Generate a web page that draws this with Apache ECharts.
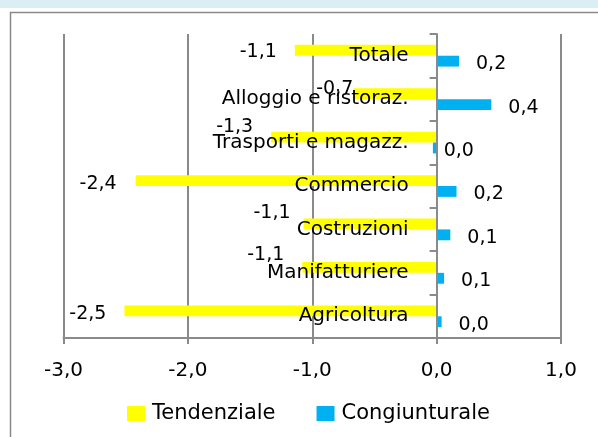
<!DOCTYPE html>
<html>
<head>
<meta charset="utf-8">
<script src="https://cdn.jsdelivr.net/npm/echarts@6/dist/echarts.min.js"></script>
<style>
html,body{margin:0;padding:0;background:#fff;}
#chart{width:598px;height:437px;}
</style>
</head>
<body>
<div id="chart"></div>
<script>
// ---- data ----
const categories = ['Totale', 'Alloggio e ristoraz.', 'Trasporti e magazz.', 'Commercio', 'Costruzioni', 'Manifatturiere', 'Agricoltura'];
const tendenziale = [-1.14, -0.67, -1.33, -2.42, -1.07, -1.08, -2.51];
const congiunturale = [0.18, 0.44, -0.03, 0.16, 0.11, 0.06, 0.04];
const seriesNames = ['Tendenziale', 'Congiunturale'];
const xTicks = [-3, -2, -1, 0, 1];

// ---- styling helpers ----
const FONT = 'DejaVu Sans';
const fmt = v => (Math.abs(v) < 0.05 ? '0.0' : v.toFixed(1)).replace('.', ',');
// manual label nudges as in the original chart [dx, dy]
const yellowShift = [[0, 1.5], [18, -4.5], [0, -10], [-1, 3], [5, -11], [0, -12], [0, 3]];

const GRID_LEFT = 63.5, GRID_RIGHT = 37, W = 598;
const xMin = xTicks[0], xMax = xTicks[xTicks.length - 1];
// move the category axis (line, ticks and labels) onto the zero line of the value axis
const yAxisShift = -(W - GRID_LEFT - GRID_RIGHT) * (0 - xMin) / (xMax - xMin);

const chart = echarts.init(document.getElementById('chart'), null, {renderer: 'canvas'});

const option = {
  animation: false,
  backgroundColor: '#ffffff',
  graphic: [
    {type: 'rect', left: 0, top: 0, shape: {width: 598, height: 8}, style: {fill: '#dbeef4'}, silent: true, z: -10},
    {type: 'rect', shape: {x: 10.5, y: 12.5, width: 700, height: 500}, style: {fill: 'none', stroke: '#8a8a8a', lineWidth: 1.5}, silent: true, z: -10}
  ],
  legend: {
    data: seriesNames,
    left: 127,
    top: 403,
    padding: 0,
    itemWidth: 18,
    itemHeight: 15,
    itemGap: 41,
    icon: 'rect',
    textStyle: {fontFamily: FONT, fontSize: 21, color: '#000', padding: [0, 0, 0, 2]}
  },
  grid: {left: GRID_LEFT, right: GRID_RIGHT, top: 34, bottom: 99, containLabel: false, outerBoundsMode: 'none'},
  xAxis: {
    type: 'value',
    min: xMin,
    max: xMax,
    interval: 1,
    axisLine: {show: true, lineStyle: {color: '#8a8a8a', width: 2}},
    axisTick: {show: true, length: 6, lineStyle: {color: '#8a8a8a', width: 2}},
    splitLine: {show: true, lineStyle: {color: '#8a8a8a', width: 2}},
    axisLabel: {fontFamily: FONT, fontSize: 20, color: '#000', margin: 23, formatter: v => fmt(v)}
  },
  yAxis: {
    type: 'category',
    inverse: true,
    data: categories,
    z: 5,
    offset: yAxisShift,
    axisLine: {show: true, onZero: false, lineStyle: {color: '#8a8a8a', width: 2}},
    axisTick: {show: true, length: 7, lineStyle: {color: '#8a8a8a', width: 2}},
    splitLine: {show: false},
    axisLabel: {fontFamily: FONT, fontSize: 20, color: '#000', margin: 28}
  },
  series: [
    {
      name: seriesNames[0],
      type: 'bar',
      barGap: '0%',
      barCategoryGap: '50%',
      itemStyle: {color: '#ffff00'},
      label: {show: true, position: 'left', distance: 18, fontFamily: FONT, fontSize: 19, color: '#000', formatter: p => fmt(p.value)},
      data: tendenziale.map((v, i) => ({value: v, label: {offset: yellowShift[i]}}))
    },
    {
      name: seriesNames[1],
      type: 'bar',
      barGap: '0%',
      barCategoryGap: '50%',
      itemStyle: {color: '#00b0f0'},
      label: {show: true, position: 'right', distance: 17, offset: [0, 3], fontFamily: FONT, fontSize: 19, color: '#000', formatter: p => fmt(p.value)},
      data: congiunturale.map(v => (v < 0 ? {value: v, label: {distance: 7}} : v))
    }
  ]
};
chart.setOption(option);
</script>
</body>
</html>
